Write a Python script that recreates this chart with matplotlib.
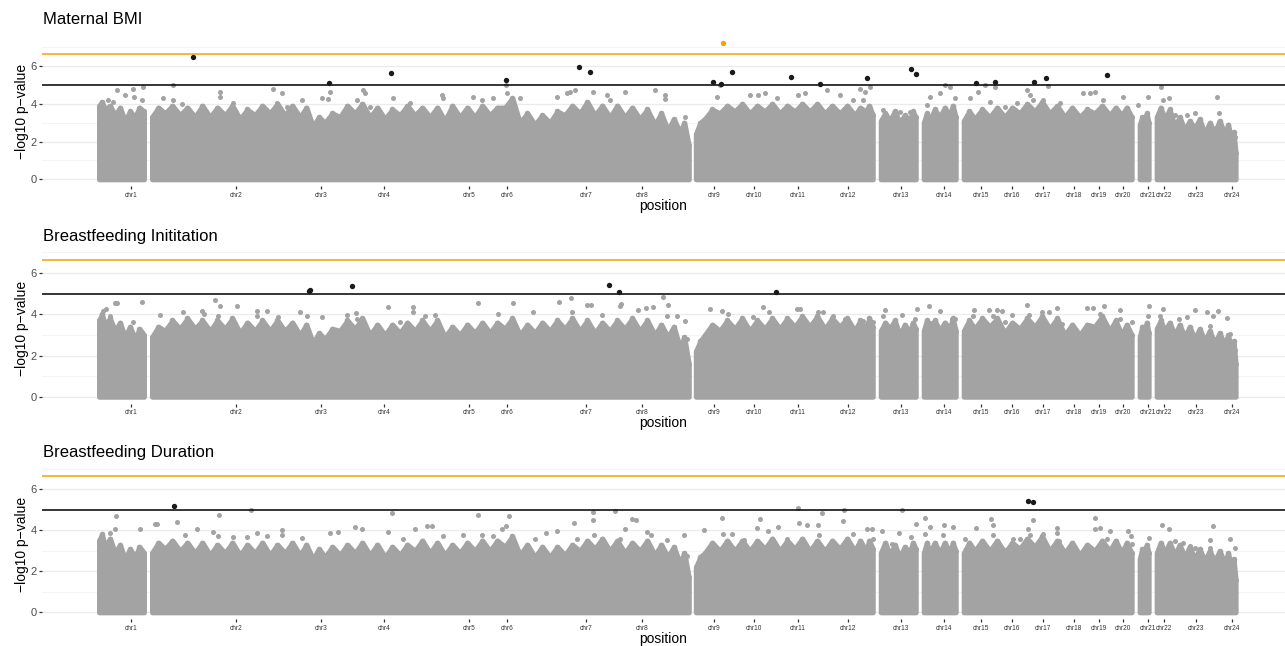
import numpy as np
import matplotlib
matplotlib.use("Agg")
import matplotlib.pyplot as plt

plt.rcParams['font.family'] = ['Liberation Sans', 'DejaVu Sans']

# chromosome label positions on the cumulative position axis
chrom_labels = ['chr%d' % i for i in range(1, 25)]
chrom_pos = [131, 236, 321, 384, 469, 507, 586, 642, 714, 754, 798, 848,
             901, 944, 981, 1012, 1043, 1074, 1099, 1123, 1148, 1164, 1196, 1232]

# contiguous runs of SNPs (visible blocks)
block_start = [99, 152, 696, 881, 924, 964, 1140, 1157]
block_end = [144, 689, 873, 916, 956, 1132, 1149, 1236]

# solid part of the SNP cloud: read at these positions
env_x = [99, 105, 115, 125, 135, 144,
         152, 165, 180, 195, 210, 225, 240, 255, 270, 285, 300, 313, 325, 340, 355,
         370, 385, 400, 415, 430, 445, 460, 475, 490, 505, 520, 535, 550, 565, 580,
         595, 610, 625, 640, 655, 668, 680, 689,
         696, 705, 720, 735, 750, 765, 780, 795, 810, 825, 840, 855, 866, 873,
         881, 890, 900, 910, 916,
         924, 930, 940, 950, 956,
         964, 975, 990, 1005, 1020, 1035, 1050, 1065, 1080, 1095, 1110, 1122, 1132,
         1140, 1145, 1149,
         1157, 1165, 1175, 1185, 1195, 1205, 1215, 1225, 1232, 1236]

env_bmi = [3.9, 3.7, 3.4, 3.1, 3.3, 3.6,
           3.3, 3.5, 3.4, 3.3, 3.3, 3.4, 3.2, 3.4, 3.5, 3.4, 3.3, 2.8, 3.0, 3.3, 3.5,
           3.3, 3.2, 3.4, 3.4, 3.3, 3.1, 3.3, 3.3, 3.4, 3.8, 3.0, 2.9, 3.0, 3.4, 3.5,
           3.4, 3.3, 3.3, 3.2, 2.9, 2.6, 2.5, 1.8,
           2.4, 3.2, 3.5, 3.6, 3.5, 3.6, 3.5, 3.6, 3.6, 3.5, 3.5, 3.4, 3.6, 3.4,
           3.1, 3.1, 3.0, 3.1, 3.3,
           3.0, 3.1, 3.3, 3.4, 3.3,
           3.1, 3.2, 3.3, 3.3, 3.5, 3.6, 3.5, 3.3, 3.3, 3.5, 3.4, 3.4, 3.3,
           2.9, 3.0, 3.0,
           3.3, 3.2, 2.8, 2.6, 2.7, 2.4, 2.5, 2.4, 2.0, 1.4]

env_init = [3.7, 3.5, 3.2, 2.9, 2.8, 3.0,
            2.9, 3.2, 3.3, 3.3, 3.2, 3.3, 3.1, 3.2, 3.2, 3.2, 3.0, 2.6, 2.8, 3.2, 3.3,
            3.0, 3.0, 3.1, 3.2, 3.2, 2.9, 3.0, 3.1, 3.1, 3.3, 3.0, 3.1, 3.2, 3.3, 3.2,
            3.1, 3.2, 3.3, 3.2, 3.0, 2.9, 2.4, 1.6,
            2.2, 3.0, 3.2, 3.3, 3.2, 3.3, 3.3, 3.4, 3.4, 3.3, 3.4, 3.2, 3.3, 3.4,
            3.2, 3.3, 3.0, 3.1, 3.3,
            3.2, 3.3, 3.2, 3.3, 3.2,
            3.2, 3.3, 3.4, 3.1, 3.3, 3.4, 3.3, 3.0, 3.0, 3.4, 3.2, 3.0, 3.0,
            2.9, 3.1, 3.1,
            3.3, 3.2, 3.0, 2.9, 2.8, 2.7, 2.6, 2.5, 2.2, 1.6]

env_dur = [3.5, 3.2, 2.9, 2.6, 2.7, 2.9,
           2.9, 3.1, 3.0, 2.9, 2.8, 2.9, 2.8, 2.9, 2.8, 2.9, 2.8, 2.6, 2.7, 2.8, 2.9,
           2.8, 2.7, 2.8, 3.0, 2.9, 2.8, 2.9, 3.0, 3.0, 3.2, 2.8, 2.7, 2.7, 2.8, 3.0,
           3.1, 3.0, 2.9, 3.0, 2.8, 2.7, 2.4, 1.7,
           2.2, 2.9, 3.0, 3.0, 3.0, 3.1, 3.0, 3.1, 3.0, 3.0, 3.1, 3.0, 3.0, 3.1,
           2.9, 2.8, 2.7, 2.9, 3.1,
           2.9, 2.9, 2.9, 2.9, 3.0,
           2.9, 3.0, 3.0, 2.9, 3.1, 3.2, 3.0, 2.9, 2.8, 3.0, 3.0, 2.9, 2.9,
           2.6, 2.8, 2.9,
           2.9, 2.9, 2.8, 2.7, 2.6, 2.5, 2.5, 2.4, 2.1, 1.6]

# top of the fuzzy band of overlapping SNPs, just right of each env_x position
fringe_bmi = [4.1, 3.9, 3.8, 3.6, 3.8, 4.0,
              3.8, 3.9, 3.8, 3.9, 3.8, 3.9, 3.7, 3.9, 4.0, 3.9, 3.8, 3.3, 3.5, 3.9, 4.0,
              3.8, 3.7, 3.9, 3.8, 3.8, 3.9, 3.8, 3.9, 3.8, 4.3, 3.5, 3.4, 3.6, 3.9, 4.1,
              3.9, 3.9, 3.8, 3.7, 3.5, 3.2, 3.0, 2.6,
              3.0, 3.7, 3.9, 4.0, 3.9, 4.0, 3.9, 4.0, 4.0, 3.9, 3.9, 3.8, 3.9, 3.7,
              3.5, 3.6, 3.4, 3.6, 3.7,
              3.5, 3.7, 3.8, 3.9, 3.8,
              3.6, 3.7, 3.8, 3.8, 4.0, 4.1, 3.9, 3.8, 3.7, 3.9, 3.8, 3.8, 3.7,
              3.3, 3.5, 3.4,
              3.8, 3.7, 3.3, 3.1, 3.2, 3.0, 3.1, 2.9, 2.5, 1.9]

fringe_init = [4.0, 3.8, 3.6, 3.4, 3.3, 3.5,
               3.4, 3.7, 3.8, 3.7, 3.7, 3.8, 3.6, 3.7, 3.7, 3.6, 3.5, 3.1, 3.3, 3.7, 3.8,
               3.5, 3.5, 3.6, 3.7, 3.7, 3.4, 3.5, 3.6, 3.6, 3.8, 3.5, 3.6, 3.7, 3.8, 3.7,
               3.6, 3.7, 3.8, 3.7, 3.5, 3.4, 2.9, 2.2,
               2.7, 3.5, 3.7, 3.8, 3.7, 3.8, 3.8, 3.9, 3.9, 3.8, 3.8, 3.7, 3.8, 3.8,
               3.6, 3.7, 3.5, 3.6, 3.8,
               3.7, 3.7, 3.6, 3.8, 3.7,
               3.7, 3.8, 3.8, 3.6, 3.8, 3.9, 3.8, 3.5, 3.5, 3.9, 3.7, 3.5, 3.5,
               3.4, 3.6, 3.6,
               3.7, 3.6, 3.5, 3.4, 3.3, 3.2, 3.1, 3.0, 2.7, 2.1]

fringe_dur = [3.8, 3.6, 3.3, 3.1, 3.2, 3.3,
              3.4, 3.5, 3.4, 3.4, 3.3, 3.4, 3.3, 3.4, 3.3, 3.4, 3.3, 3.1, 3.2, 3.3, 3.4,
              3.3, 3.2, 3.3, 3.5, 3.4, 3.3, 3.4, 3.5, 3.5, 3.7, 3.3, 3.2, 3.2, 3.3, 3.5,
              3.6, 3.5, 3.4, 3.5, 3.3, 3.2, 2.9, 2.2,
              2.7, 3.4, 3.5, 3.5, 3.5, 3.6, 3.5, 3.6, 3.5, 3.5, 3.6, 3.5, 3.5, 3.6,
              3.4, 3.3, 3.2, 3.4, 3.6,
              3.4, 3.4, 3.4, 3.4, 3.5,
              3.4, 3.5, 3.5, 3.4, 3.6, 3.7, 3.5, 3.4, 3.3, 3.5, 3.5, 3.4, 3.4,
              3.1, 3.3, 3.4,
              3.4, 3.4, 3.3, 3.2, 3.1, 3.0, 3.0, 2.9, 2.6, 2.1]

# scattered SNPs above the dense cloud (position, -log10 p)
bmi_gray = [(117, 4.73), (125, 4.46), (133, 4.81), (143, 4.87), (134, 4.34), (142, 4.2),
            (108, 4.2), (113, 4.1), (173, 4.99), (163, 4.29), (173, 4.2), (182, 3.99),
            (220, 4.64), (220, 4.37), (233, 4.02), (273, 4.81), (282, 4.59), (277, 4.02),
            (287, 3.85), (302, 4.2), (322, 4.29), (330, 4.64), (328, 4.23), (363, 4.73),
            (365, 4.55), (357, 4.2), (370, 3.85), (393, 4.29), (410, 4.02),
            (442, 4.46), (443, 4.29), (473, 4.37), (482, 4.2), (493, 4.29), (506, 4.99),
            (507, 4.55), (520, 4.29), (557, 4.37), (567, 4.55), (575, 4.73), (570, 4.64),
            (593, 4.64), (607, 4.46), (610, 4.2), (625, 4.64), (655, 4.73), (665, 4.46),
            (665, 4.23), (685, 3.32), (717, 4.37), (720, 4.99), (750, 4.46), (758, 4.46),
            (765, 4.55), (777, 4.29), (798, 4.46), (805, 4.55), (827, 4.73), (840, 4.46),
            (853, 4.2), (860, 4.81), (865, 4.64), (870, 4.9), (863, 4.2), (883, 3.67),
            (900, 3.58), (910, 3.58), (927, 3.93), (930, 4.37), (940, 4.55), (945, 4.99),
            (950, 4.87), (955, 4.29), (970, 4.29), (978, 4.64), (985, 4.99), (995, 4.9),
            (990, 4.1), (1005, 3.85), (1017, 4.02), (1027, 4.73), (1030, 4.46), (1033, 4.2),
            (1048, 4.94), (1043, 4.2), (1060, 4.02), (1083, 4.55), (1090, 4.59), (1095, 4.64),
            (1103, 4.2), (1123, 4.37), (1138, 3.93), (1148, 4.37), (1161, 4.87), (1163, 4.2),
            (1169, 4.29), (1175, 3.4), (1187, 3.4), (1195, 3.49), (1217, 4.37), (1219, 3.49),
            (1219, 3.05), (1233, 2.52), (1235, 2.26)]
bmi_sig = [(193, 6.46), (329, 5.08), (391, 5.64), (506, 5.26), (579, 5.94), (590, 5.68),
           (713, 5.15), (721, 5.04), (732, 5.70), (791, 5.43), (820, 5.03), (867, 5.34),
           (911, 5.84), (916, 5.57), (976, 5.08), (995, 5.17), (1034, 5.13), (1046, 5.34),
           (1107, 5.52)]
bmi_top = [(723, 7.2)]

init_gray = [(103, 4.17), (106, 4.25), (115, 4.53), (117, 4.53), (110, 3.93), (142, 4.61),
             (133, 3.64), (160, 3.96), (183, 4.09), (202, 4.17), (204, 4.01), (215, 4.7),
             (220, 4.41), (237, 4.38), (218, 3.93), (257, 4.17), (267, 4.17), (257, 3.93),
             (278, 3.85), (300, 4.09), (307, 3.93), (322, 3.85), (347, 3.96), (356, 4.06),
             (357, 3.77), (388, 4.33), (413, 4.33), (413, 4.09), (400, 3.61), (425, 3.93),
             (435, 3.96), (478, 4.54), (513, 4.57), (498, 4.01), (533, 4.09), (559, 4.61),
             (571, 4.78), (572, 4.12), (587, 4.45), (591, 4.45), (602, 3.98), (621, 4.49),
             (620, 4.38), (638, 4.2), (646, 4.29), (653, 4.37), (663, 4.82), (668, 4.45),
             (667, 3.93), (677, 3.93), (685, 3.69), (687, 2.81), (710, 4.25), (722, 4.17),
             (728, 4.01), (753, 3.88), (763, 4.37), (769, 4.09), (797, 4.25), (800, 4.25),
             (818, 4.09), (823, 4.12), (833, 3.93), (845, 3.77),
             (863, 3.69), (873, 3.64), (883, 3.93), (885, 4.2), (902, 3.96), (917, 4.25),
             (915, 3.77), (929, 4.38), (940, 4.17), (930, 3.58), (952, 3.77), (955, 3.77),
             (974, 4.2), (973, 3.93), (989, 4.2), (997, 4.2), (1002, 4.17), (993, 3.93),
             (1005, 3.64), (1012, 3.96), (1027, 4.45), (1029, 3.96), (1042, 4.09), (1049, 4.12),
             (1057, 4.3), (1062, 3.53), (1087, 4.29), (1093, 4.29), (1104, 4.41), (1100, 4.01),
             (1120, 4.2), (1120, 3.77), (1132, 3.64), (1149, 4.38), (1148, 3.93), (1163, 4.25),
             (1160, 3.93), (1179, 3.77), (1187, 3.85), (1195, 4.2), (1207, 4.09), (1213, 3.93),
             (1218, 4.14), (1210, 3.45), (1227, 3.82), (1230, 3.05), (1235, 2.25)]
init_sig = [(309, 5.14), (310, 5.2), (352, 5.38), (609, 5.43), (619, 5.06), (776, 5.09)]
init_top = []

dur_gray = [(116, 4.7), (115, 4.05), (110, 3.89), (140, 4.05), (155, 4.3), (157, 4.3),
            (177, 4.41), (185, 3.75), (197, 4.08), (213, 3.92), (219, 4.74), (218, 3.72),
            (233, 3.69), (251, 5.0), (247, 3.69), (257, 3.89), (267, 3.72), (282, 4.02),
            (282, 3.75), (302, 3.64), (330, 3.89), (338, 3.92), (355, 4.18), (362, 4.08),
            (388, 3.92), (392, 4.84), (403, 3.56), (415, 4.05), (427, 4.21),
            (432, 4.21), (443, 3.72), (463, 3.75), (478, 4.75), (482, 3.75), (493, 3.72),
            (502, 4.05), (509, 4.7), (506, 4.21), (535, 3.56), (546, 3.85), (557, 3.97),
            (574, 4.38), (577, 3.56), (593, 4.51), (593, 4.87), (594, 3.75), (615, 4.92),
            (620, 3.59), (625, 4.08), (632, 4.54), (636, 4.49), (647, 3.92), (651, 3.75),
            (667, 3.51), (684, 3.75), (687, 2.77), (704, 4.0), (722, 4.62), (723, 3.84),
            (732, 3.84), (744, 3.52), (757, 4.13), (760, 4.54), (768, 3.97), (778, 4.18),
            (787, 3.56), (798, 5.07), (799, 4.38), (807, 4.26), (818, 4.26), (822, 4.84),
            (819, 3.75), (844, 4.98), (843, 4.46),
            (853, 3.8), (858, 3.26), (867, 4.05), (872, 4.08), (873, 3.59), (882, 3.97),
            (892, 3.31), (899, 3.85), (902, 4.98), (911, 3.69), (916, 4.3), (925, 4.62),
            (930, 4.18), (925, 3.8), (943, 3.75), (944, 4.25), (953, 4.16), (976, 4.13),
            (965, 3.56), (991, 4.57), (993, 4.25), (993, 3.75), (1003, 3.07), (1013, 3.56),
            (1020, 3.59), (1033, 4.51), (1028, 4.05), (1030, 3.75), (1043, 3.8), (1057, 4.13),
            (1057, 3.85), (1059, 3.48), (1069, 2.82), (1095, 4.62), (1095, 4.08), (1100, 4.13),
            (1110, 3.97), (1107, 3.56), (1128, 3.97), (1131, 3.72), (1132, 3.31), (1145, 3.15),
            (1149, 3.64), (1162, 4.26), (1169, 4.05), (1175, 3.48), (1183, 3.39), (1190, 3.23),
            (1195, 3.15), (1210, 3.51), (1213, 4.21), (1210, 3.15), (1230, 3.56), (1235, 3.15)]
dur_sig = [(174, 5.2), (1028, 5.41), (1033, 5.36)]
dur_top = []

titles = ['Maternal BMI', 'Breastfeeding Inititation', 'Breastfeeding Duration']
suggestive = 5.0
genome_wide = 6.65

GRAY = '#a3a3a3'
ORANGE = '#f5a20a'

panels = [
    (env_bmi, fringe_bmi, bmi_gray, bmi_sig, bmi_top,
     [0.0327, 0.712, 0.967, 0.2314], (-0.355, 7.56), 20),
    (env_init, fringe_init, init_gray, init_sig, init_top,
     [0.0327, 0.3752, 0.967, 0.234], (-0.333, 6.95), 236.5),
    (env_dur, fringe_dur, dur_gray, dur_sig, dur_top,
     [0.0327, 0.0415, 0.967, 0.2328], (-0.333, 6.93), 452.5),
]

fig = plt.figure(figsize=(12.85, 6.46), dpi=100)
ex = np.array(env_x, dtype=float)

for (env, fringe, gray_pts, sig_pts, top_pts, rect, ylim, title_y), title in zip(panels, titles):
    ax = fig.add_axes(rect)
    ey = np.array(env)
    fy = np.array(fringe)
    for s, e in zip(block_start, block_end):
        idx = np.where((ex >= s) & (ex <= e))[0]
        xs, ys, px, py = [], [], [], []
        for k, i in enumerate(idx):
            xs.append(ex[i])
            ys.append(ey[i])
            if k < len(idx) - 1:
                mid = (ex[i] + ex[idx[k + 1]]) / 2
                xs.append(mid)
                ys.append(fy[i])
                px.append(mid)
                py.append(fy[i])
        # thick round stroke mimics the overlapping round markers
        ax.fill_between(xs, 0, ys, facecolor=GRAY, edgecolor=GRAY,
                        linewidth=3.6, joinstyle='round', zorder=2)
        ax.scatter(px, py, s=16, color=GRAY, linewidths=0, zorder=2)
    ax.scatter(ex, ey, s=13, color=GRAY, linewidths=0, zorder=2)
    gx, gy = zip(*gray_pts)
    ax.scatter(gx, gy, s=13, color=GRAY, linewidths=0, zorder=2)

    ax.axhline(suggestive, color='black', lw=1.1, zorder=3)
    ax.axhline(genome_wide, color=ORANGE, lw=1.1, zorder=3)

    sx, sy = zip(*sig_pts)
    ax.scatter(sx, sy, s=15, color='#1a1a1a', linewidths=0, zorder=4)
    if top_pts:
        tx, ty = zip(*top_pts)
        ax.scatter(tx, ty, s=15, color=ORANGE, linewidths=0, zorder=4)

    ax.set_xlim(42, 1285)
    ax.set_ylim(*ylim)
    ax.set_yticks([0, 2, 4, 6])
    ax.set_yticks([1, 3, 5, 7], minor=True)
    ax.grid(axis='y', which='major', color='#ebebeb', lw=0.9)
    ax.grid(axis='y', which='minor', color='#f2f2f2', lw=0.6)
    ax.set_axisbelow(True)
    for sp in ax.spines.values():
        sp.set_visible(False)

    ax.set_xticks(chrom_pos, chrom_labels)
    ax.tick_params(axis='x', length=2.5, width=0.9, color='#333333', pad=1.5,
                   labelsize=4.7, labelcolor='#333333')
    ax.tick_params(axis='y', which='major', length=2.2, width=0.9, color='#333333',
                   pad=1.5, labelsize=8, labelcolor='#4d4d4d')
    ax.tick_params(axis='y', which='minor', length=0)
    ax.set_xlabel('position', fontsize=10, labelpad=0)
    ax.set_ylabel('\u2212log10 p\u2212value', fontsize=10, labelpad=1)

    fig.text(43 / 1285, 1 - title_y / 646, title, fontsize=12, va='center', ha='left')

fig.savefig('out.png', dpi=100)
